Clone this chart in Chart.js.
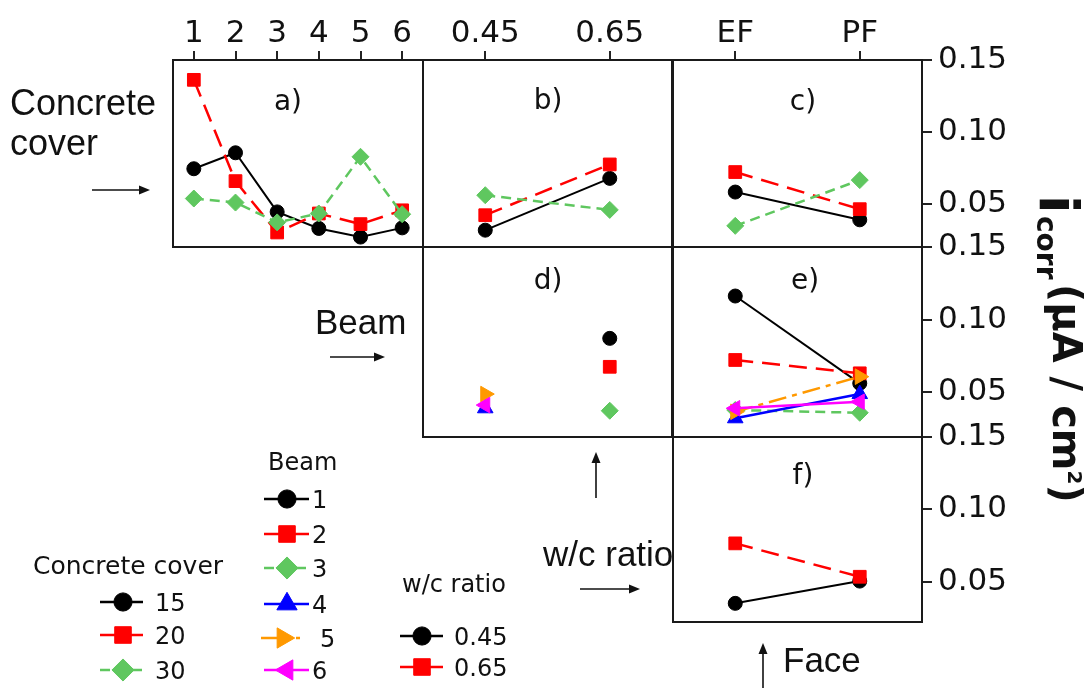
<!DOCTYPE html>
<html><head><meta charset="utf-8">
<script src="https://cdn.jsdelivr.net/npm/chart.js@4.4.1/dist/chart.umd.min.js"></script>
<style>
html,body{margin:0;padding:0;background:#fff;}
#wrap{position:relative;width:1088px;height:688px;overflow:hidden;background:#fff;}
#wrap canvas{position:absolute;left:0;top:0;}
</style></head><body>
<div id="wrap">
<canvas id="pa" width="1088" height="688"></canvas>
<canvas id="pb" width="1088" height="688"></canvas>
<canvas id="pc" width="1088" height="688"></canvas>
<canvas id="pd" width="1088" height="688"></canvas>
<canvas id="pe" width="1088" height="688"></canvas>
<canvas id="pf" width="1088" height="688"></canvas>
</div>
<script>
// ---------- categories ----------
const beamLabels = ['1', '2', '3', '4', '5', '6'];
const wcLabels = ['0.45', '0.65'];
const faceLabels = ['EF', 'PF'];
const coverNames = ['15', '20', '30'];
const beamNames = ['1', '2', '3', '4', '5', '6'];
const wcNames = ['0.45', '0.65'];
const yTicks = [0.05, 0.10, 0.15];

// ---------- a) icorr vs beam, by concrete cover ----------
const coverBeam15 = [0.0744, 0.0855, 0.0444, 0.0329, 0.0269, 0.0333];
const coverBeam20 = [0.1362, 0.0658, 0.0301, 0.0433, 0.0359, 0.0455];
const coverBeam30 = [0.0537, 0.0509, 0.0371, 0.0433, 0.0827, 0.0428];
// ---------- b) icorr vs w/c, by concrete cover ----------
const coverWc15 = [0.0317, 0.0677];
const coverWc20 = [0.0421, 0.0774];
const coverWc30 = [0.0560, 0.0458];
// ---------- c) icorr vs face, by concrete cover ----------
const coverFace15 = [0.0582, 0.0389];
const coverFace20 = [0.0721, 0.0463];
const coverFace30 = [0.0347, 0.0665];
// ---------- d) icorr vs w/c, by beam ----------
const beamWc1 = [null, 0.0870];
const beamWc2 = [null, 0.0674];
const beamWc3 = [null, 0.0371];
const beamWc4 = [0.0388, null];
const beamWc5 = [0.0486, null];
const beamWc6 = [0.0410, null];
// ---------- e) icorr vs face, by beam ----------
const beamFace1 = [0.1162, 0.0560];
const beamFace2 = [0.0721, 0.0629];
const beamFace3 = [0.0376, 0.0357];
const beamFace4 = [0.0319, 0.0486];
const beamFace5 = [0.0364, 0.0606];
const beamFace6 = [0.0388, 0.0433];
// ---------- f) icorr vs face, by w/c ratio ----------
const wcFace045 = [0.0349, 0.0503];
const wcFace065 = [0.0764, 0.0533];

// ---------- styles ----------
const FONT = '"DejaVu Sans"';
const seriesStyles = [
  {color: '#000000', dash: [], point: 'circle', rot: 0, r: 7, lw: 2},
  {color: '#ff0000', dash: [18, 9], point: 'rect', rot: 0, r: 9, lw: 2.5},
  {color: '#5fc75f', dash: [10, 6], point: 'rectRot', rot: 0, r: 8.5, lw: 2.5},
  {color: '#0000ff', dash: [], point: 'triangle', rot: 0, r: 9, lw: 2.5},
  {color: '#ff9900', dash: [18, 6, 5, 6], point: 'triangle', rot: 90, r: 9, lw: 2.5},
  {color: '#ff00ff', dash: [], point: 'triangle', rot: -90, r: 9, lw: 2.5}
];

function buildDatasets(names, seriesList) {
  return seriesList.map((vals, i) => {
    const st = seriesStyles[i];
    return {
      label: names[i], data: vals,
      borderColor: st.color, backgroundColor: st.color,
      borderWidth: st.lw, borderDash: st.dash,
      pointStyle: st.point, pointRotation: st.rot, pointRadius: st.r,
      pointBackgroundColor: st.color, pointBorderColor: st.color, pointBorderWidth: 1,
      tension: 0, spanGaps: false, order: 100 - i, clip: false
    };
  });
}

const W = 1088, H = 688;
const rows = {
  r1: {top: 60, bottom: 247, min: 0.02},
  r2: {top: 247, bottom: 437, min: 0.019},
  r3: {top: 437, bottom: 622, min: 0.022}
};
const cols = {
  c1: {left: 173, right: 423},
  c2: {left: 423, right: 672},
  c3: {left: 673, right: 922}
};
const TOP_AXIS_H = 60, RIGHT_AXIS_W = 100;

const framePlugin = {
  id: 'frame',
  beforeDatasetsDraw(chart) {
    const {ctx, chartArea: a} = chart;
    ctx.save();
    ctx.strokeStyle = '#1a1a1a';
    ctx.lineWidth = 2;
    ctx.setLineDash([]);
    ctx.strokeRect(a.left, a.top, a.right - a.left, a.bottom - a.top);
    ctx.restore();
  }
};

function tagPlugin(text, x, y) {
  return {
    id: 'tag',
    afterDatasetsDraw(chart) {
      const ctx = chart.ctx;
      ctx.save();
      ctx.font = '28px ' + FONT;
      ctx.fillStyle = '#111';
      ctx.textAlign = 'center';
      ctx.textBaseline = 'middle';
      ctx.fillText(text, x, y);
      ctx.restore();
    }
  };
}

function makePanel(id, labels, datasets, col, row, topAxis, rightAxis, plugins) {
  const padding = {
    left: col.left,
    right: rightAxis ? W - col.right - RIGHT_AXIS_W : W - col.right,
    top: topAxis ? row.top - TOP_AXIS_H : row.top,
    bottom: H - row.bottom
  };
  return new Chart(document.getElementById(id), {
    type: 'line',
    data: {labels: labels, datasets: datasets},
    options: {
      responsive: false, maintainAspectRatio: false, animation: false, events: [],
      layout: {padding: padding},
      plugins: {legend: {display: false}, tooltip: {enabled: false}},
      scales: {
        x: {
          type: 'category', offset: true, position: 'top', display: topAxis,
          grid: {drawOnChartArea: false, drawTicks: true, tickLength: 9, color: '#222', lineWidth: 2, offset: false},
          border: {display: false},
          ticks: {font: {family: 'DejaVu Sans', size: 31}, color: '#111', padding: -2, maxRotation: 0, autoSkip: false},
          afterFit: s => { s.height = topAxis ? TOP_AXIS_H : 0; }
        },
        y: {
          type: 'linear', position: 'right', display: rightAxis,
          min: row.min, max: 0.15,
          grid: {drawOnChartArea: false, drawTicks: true, tickLength: 10, color: '#222', lineWidth: 2},
          border: {display: false},
          afterBuildTicks: s => { s.ticks = yTicks.map(v => ({value: v})); },
          ticks: {font: {family: 'DejaVu Sans', size: 31}, color: '#111', padding: 6,
                  callback: v => Number(v).toFixed(2)},
          afterFit: s => { s.width = rightAxis ? RIGHT_AXIS_W : 0; }
        }
      }
    },
    plugins: [framePlugin].concat(plugins || [])
  });
}

// ---------- annotation helpers ----------
function arrow(ctx, x1, y1, x2, y2) {
  const ang = Math.atan2(y2 - y1, x2 - x1), hl = 11, hw = 4.5;
  ctx.save();
  ctx.setLineDash([]);
  ctx.strokeStyle = '#111'; ctx.fillStyle = '#111';
  ctx.lineWidth = 1.6;
  ctx.beginPath();
  ctx.moveTo(x1, y1);
  ctx.lineTo(x2 - Math.cos(ang) * hl * 0.8, y2 - Math.sin(ang) * hl * 0.8);
  ctx.stroke();
  ctx.beginPath();
  ctx.moveTo(x2, y2);
  ctx.lineTo(x2 - hl * Math.cos(ang) + hw * Math.sin(ang), y2 - hl * Math.sin(ang) - hw * Math.cos(ang));
  ctx.lineTo(x2 - hl * Math.cos(ang) - hw * Math.sin(ang), y2 - hl * Math.sin(ang) + hw * Math.cos(ang));
  ctx.closePath();
  ctx.fill();
  ctx.restore();
}

function marker(ctx, st, x, y, scale) {
  ctx.save();
  ctx.setLineDash([]);
  ctx.fillStyle = st.color; ctx.strokeStyle = st.color; ctx.lineWidth = 1;
  const opts = {pointStyle: st.point, rotation: st.rot, radius: st.r * scale, borderWidth: 1};
  if (Chart.helpers && Chart.helpers.drawPoint) {
    Chart.helpers.drawPoint(ctx, opts, x, y);
  }
  ctx.restore();
}

function legendItem(ctx, st, x1, x2, mx, y, text, tx) {
  ctx.save();
  ctx.strokeStyle = st.color; ctx.lineWidth = 2.5;
  ctx.setLineDash(st.dash);
  ctx.beginPath(); ctx.moveTo(x1, y); ctx.lineTo(x2, y); ctx.stroke();
  ctx.restore();
  marker(ctx, st, mx, y, 1.3);
  ctx.save();
  ctx.font = '24px ' + FONT; ctx.fillStyle = '#111';
  ctx.textAlign = 'left'; ctx.textBaseline = 'alphabetic';
  ctx.fillText(text, tx, y + 9);
  ctx.restore();
}

const annotations = {
  id: 'annotations',
  afterDraw(chart) {
    const ctx = chart.ctx;
    ctx.save();
    ctx.fillStyle = '#111';
    ctx.textAlign = 'left'; ctx.textBaseline = 'alphabetic';
    ctx.font = '36px "Liberation Sans"';
    ctx.fillText('Concrete', 10, 115);
    ctx.fillText('cover', 10, 155);
    ctx.font = '35px "Liberation Sans"';
    ctx.fillText('Beam', 315, 334);
    ctx.fillText('w/c ratio', 543, 566);
    ctx.fillText('Face', 783, 672);
    ctx.restore();
    arrow(ctx, 92, 190, 150, 190);
    arrow(ctx, 330, 357, 385, 357);
    arrow(ctx, 596, 498, 596, 452);
    arrow(ctx, 580, 589, 640, 589);
    arrow(ctx, 763, 690, 763, 643);

    // legend titles
    ctx.save();
    ctx.fillStyle = '#111'; ctx.textAlign = 'left'; ctx.textBaseline = 'alphabetic';
    ctx.font = '25px ' + FONT;
    ctx.fillText('Concrete cover', 33, 574);
    ctx.font = '24px ' + FONT;
    ctx.fillText('Beam', 268, 470);
    ctx.fillText('w/c ratio', 402, 592);
    ctx.restore();

    const coverY = [602, 635, 670];
    coverNames.forEach((n, i) => legendItem(ctx, seriesStyles[i], 100, 143, 123, coverY[i], n, 155));
    const beamY = [499, 534, 568, 604, 638, 670];
    beamNames.forEach((n, i) => {
      if (i === 4) legendItem(ctx, seriesStyles[i], 261, 300, 283, beamY[i], n, 320);
      else legendItem(ctx, seriesStyles[i], 264, 309, 287, beamY[i], n, 312);
    });
    const wcY = [636, 667];
    wcNames.forEach((n, i) => legendItem(ctx, seriesStyles[i], 400, 443, 422, wcY[i], n, 454));

    // y axis title (rotated)
    ctx.save();
    ctx.translate(1053, 0);
    ctx.rotate(Math.PI / 2);
    ctx.fillStyle = '#111'; ctx.textAlign = 'left'; ctx.textBaseline = 'alphabetic';
    ctx.font = 'bold 54px ' + FONT;
    ctx.fillText('i', 195, 13);
    ctx.font = 'bold 28px ' + FONT;
    ctx.fillText('corr', 216, 16);
    ctx.font = 'bold 40px ' + FONT;
    const main = '(\u00B5A / cm';
    ctx.fillText(main, 284, 0);
    let x = 284 + ctx.measureText(main).width;
    ctx.font = 'bold 20px ' + FONT;
    ctx.fillText('2', x, -15);
    x += ctx.measureText('2').width;
    ctx.font = 'bold 40px ' + FONT;
    ctx.fillText(')', x, 0);
    ctx.restore();
  }
};

// ---------- panels ----------
makePanel('pa', beamLabels, buildDatasets(coverNames, [coverBeam15, coverBeam20, coverBeam30]),
  cols.c1, rows.r1, true, false, [tagPlugin('a)', 288, 103)]);
makePanel('pb', wcLabels, buildDatasets(coverNames, [coverWc15, coverWc20, coverWc30]),
  cols.c2, rows.r1, true, false, [tagPlugin('b)', 548, 102)]);
makePanel('pc', faceLabels, buildDatasets(coverNames, [coverFace15, coverFace20, coverFace30]),
  cols.c3, rows.r1, true, true, [tagPlugin('c)', 803, 103)]);
makePanel('pd', wcLabels, buildDatasets(beamNames, [beamWc1, beamWc2, beamWc3, beamWc4, beamWc5, beamWc6]),
  cols.c2, rows.r2, false, false, [tagPlugin('d)', 548, 282)]);
makePanel('pe', faceLabels, buildDatasets(beamNames, [beamFace1, beamFace2, beamFace3, beamFace4, beamFace5, beamFace6]),
  cols.c3, rows.r2, false, true, [tagPlugin('e)', 805, 282)]);
makePanel('pf', faceLabels, buildDatasets(wcNames, [wcFace045, wcFace065]),
  cols.c3, rows.r3, false, true, [tagPlugin('f)', 803, 477), annotations]);
</script>
</body></html>
